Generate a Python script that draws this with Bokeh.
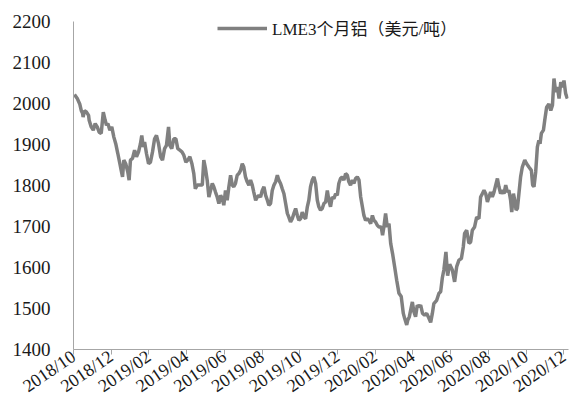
from bokeh.plotting import figure
from bokeh.models import Range1d, FixedTicker, Legend, LegendItem
from bokeh.embed import file_html
from bokeh.resources import INLINE

# months since 2018-10-01
months = [0.05,0.20,0.33,0.41,0.48,0.51,0.58,0.69,0.80,0.83,0.94,1.05,1.15,1.26,1.36,1.47,1.58,1.68,1.75,1.82,
          1.93,2.03,2.14,2.24,2.35,2.46,2.53,2.60,2.67,2.77,2.88,2.95,3.02,3.13,3.24,3.34,3.45,3.55,3.62,3.70,
          3.77,3.87,3.98,4.08,4.19,4.30,4.40,4.51,4.62,4.72,4.83,4.93,5.04,5.11,5.21,5.32,5.43,5.53,5.64,5.75,
          5.85,5.96,6.06,6.17,6.28,6.38,6.46,6.56,6.67,6.83,6.91,7.00,7.09,7.18,7.27,7.36,7.44,7.53,7.62,7.71,
          7.80,7.89,7.97,8.06,8.15,8.24,8.33,8.42,8.50,8.59,8.68,8.77,8.86,8.95,9.03,9.12,9.21,9.30,9.39,9.48,
          9.56,9.66,9.75,9.83,9.92,10.01,10.10,10.19,10.28,10.36,10.45,10.54,10.63,10.72,10.81,10.89,10.98,11.07,11.16,11.25,
          11.34,11.42,11.51,11.60,11.69,11.78,11.87,11.95,12.04,12.13,12.22,12.31,12.40,12.48,12.57,12.66,12.75,12.84,12.93,13.01,
          13.10,13.19,13.28,13.37,13.46,13.54,13.63,13.72,13.81,13.90,13.99,14.07,14.16,14.25,14.34,14.43,14.52,14.60,14.69,14.79,
          14.87,14.96,15.05,15.14,15.23,15.32,15.40,15.49,15.58,15.67,15.76,15.85,15.93,16.02,16.11,16.20,16.32,16.39,16.46,16.55,
          16.64,16.73,16.82,16.92,17.03,17.14,17.26,17.38,17.49,17.56,17.67,17.73,17.81,17.88,17.97,18.05,18.14,18.23,18.32,18.41,
          18.51,18.62,18.73,18.85,18.94,19.03,19.11,19.26,19.38,19.47,19.56,19.64,19.75,19.84,19.95,20.09,20.21,20.32,20.44,20.57,
          20.67,20.74,20.85,20.97,21.06,21.15,21.27,21.38,21.50,21.59,21.68,21.77,21.86,21.95,22.03,22.12,22.21,22.30,22.39,22.48,
          22.56,22.65,22.74,22.83,22.92,23.01,23.09,23.18,23.24,23.33,23.40,23.47,23.54,23.62,23.71,23.80,23.93,24.03,24.15,24.28,
          24.35,24.42,24.51,24.60,24.68,24.74,24.81,24.92,24.99,25.09,25.21,25.31,25.40,25.48,25.57,25.66,25.75,25.84,25.93,26.01,
          26.10,26.19]

price = [2022,2012,1999,1983,1976,1967,1982,1979,1971,1959,1943,1935,1951,1943,1930,1927,1979,1959,1947,1951,
         1935,1943,1918,1902,1878,1853,1837,1821,1862,1853,1833,1813,1862,1866,1886,1870,1882,1902,1922,1894,
         1906,1878,1853,1857,1882,1914,1922,1902,1870,1862,1890,1898,1943,1898,1890,1914,1914,1890,1886,1882,
         1874,1857,1862,1870,1853,1829,1792,1801,1801,1801,1862,1841,1813,1772,1788,1805,1797,1784,1772,1756,
         1776,1768,1752,1788,1764,1797,1825,1801,1797,1805,1825,1829,1837,1853,1845,1821,1809,1801,1813,1801,
         1784,1764,1772,1776,1772,1788,1797,1776,1764,1752,1756,1788,1801,1809,1825,1813,1805,1792,1780,1756,
         1732,1723,1711,1719,1732,1744,1727,1715,1719,1735,1723,1719,1748,1764,1797,1813,1821,1805,1764,1748,
         1740,1744,1756,1760,1788,1764,1748,1772,1768,1780,1776,1805,1817,1821,1813,1829,1825,1809,1801,1813,
         1805,1817,1821,1813,1772,1748,1727,1715,1719,1715,1707,1727,1715,1711,1703,1699,1699,1679,1699,1732,
         1699,1707,1659,1634,1602,1569,1537,1529,1488,1476,1460,1472,1480,1496,1516,1492,1480,1508,1504,1508,
         1488,1484,1488,1476,1466,1488,1512,1520,1537,1541,1575,1594,1638,1580,1608,1594,1565,1602,1618,1622,
         1650,1683,1691,1659,1662,1691,1699,1723,1719,1772,1780,1788,1780,1760,1772,1784,1772,1784,1801,1817,
         1797,1780,1788,1780,1801,1784,1788,1764,1735,1780,1764,1740,1744,1780,1821,1845,1862,1853,1845,1837,
         1801,1797,1833,1894,1910,1902,1927,1935,1959,1991,1999,1983,1996,2061,2028,2040,2012,2052,2040,2056,
         2024,2012]

tick_months = [0, 2, 4, 6, 8, 10, 12, 14, 16, 18, 20, 22, 24, 26]
tick_labels = ["2018/10", "2018/12", "2019/02", "2019/04", "2019/06", "2019/08", "2019/10",
               "2019/12", "2020/02", "2020/04", "2020/06", "2020/08", "2020/10", "2020/12"]
y_ticks = [1400, 1500, 1600, 1700, 1800, 1900, 2000, 2100, 2200]
series_name = "LME3个月铝（美元/吨）"

p = figure(width=569, height=407, output_backend="svg", toolbar_location=None,
           x_range=Range1d(0, 26.25), y_range=Range1d(1400, 2200),
           min_border_left=73, min_border_right=1, min_border_top=21, min_border_bottom=57)
p.outline_line_color = None
p.xgrid.grid_line_color = None
p.ygrid.grid_line_color = None
p.background_fill_color = "white"
p.border_fill_color = "white"

r = p.line(months, price, line_color="#808080", line_width=3.5)

axis_col = "#a6a6a6"
label_font = "Liberation Serif"
text_col = "#1a1a1a"

p.xaxis.ticker = FixedTicker(ticks=tick_months)
p.xaxis.major_label_overrides = {m: l for m, l in zip(tick_months, tick_labels)}
p.xaxis.major_label_orientation = 0.6
p.xaxis.axis_line_color = axis_col
p.xaxis.major_tick_line_color = axis_col
p.xaxis.major_tick_out = 5
p.xaxis.major_tick_in = 0
p.xaxis.minor_tick_line_color = None
p.xaxis.major_label_text_font = label_font
p.xaxis.major_label_text_font_size = "18px"
p.xaxis.major_label_text_color = text_col
p.xaxis.major_label_standoff = 0

p.yaxis.ticker = FixedTicker(ticks=y_ticks)
p.yaxis.axis_line_color = axis_col
p.yaxis.major_tick_line_color = None
p.yaxis.major_tick_out = 0
p.yaxis.major_tick_in = 0
p.yaxis.minor_tick_line_color = None
p.yaxis.major_label_text_font = label_font
p.yaxis.major_label_text_font_size = "19px"
p.yaxis.major_label_text_color = text_col
p.yaxis.major_label_standoff = 23

legend = Legend(items=[LegendItem(label=series_name, renderers=[r])],
                location=(144, 309), orientation="horizontal",
                glyph_width=50, glyph_height=20, label_height=20, label_standoff=5,
                padding=0, margin=0, border_line_color=None,
                background_fill_alpha=0,
                label_text_font="'Liberation Serif', 'Noto Sans CJK SC'",
                label_text_font_size="17px", label_text_color=text_col)
p.add_layout(legend)

open("out.html", "w").write(file_html(p, INLINE))
